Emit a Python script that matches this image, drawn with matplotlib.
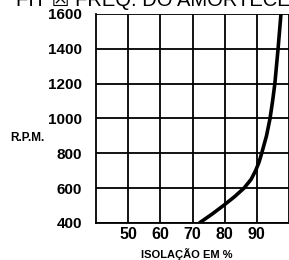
import matplotlib
matplotlib.use("Agg")
import matplotlib.pyplot as plt

# curve
rpm = [400, 450, 500, 550, 600, 650, 700, 750, 800, 900, 1000, 1100, 1200, 1400, 1600]
isolacao = [72.1, 76.0, 79.6, 83.0, 86.0, 88.2, 89.6, 90.7, 91.5, 93.0, 94.1, 94.9, 95.6, 96.6, 97.5]

x_ticks = [50, 60, 70, 80, 90]
y_ticks = [400, 600, 800, 1000, 1200, 1400, 1600]

plt.rcParams['font.family'] = ['Liberation Sans', 'DejaVu Sans']

fig = plt.figure(figsize=(2.89, 2.6), dpi=100)
ax = fig.add_axes([96 / 289, 1 - 223 / 260, 1 - 96 / 289, (223 - 14) / 260])

ax.plot(isolacao, rpm, color='black', linewidth=2.6, solid_capstyle='butt',
        solid_joinstyle='round', zorder=3)

ax.set_xlim(40, 99.6)
ax.set_ylim(400, 1600)
ax.set_xticks(x_ticks + [100])
ax.set_xticklabels([str(v) for v in x_ticks] + [''])
ax.set_yticks(y_ticks)
ax.set_yticklabels([str(v) for v in y_ticks])
ax.grid(True, color='black', linewidth=1.3)
ax.tick_params(length=0)
ax.tick_params(axis='y', pad=10, labelsize=11)
ax.tick_params(axis='x', pad=3, labelsize=11.5)
for lbl in ax.get_xticklabels() + ax.get_yticklabels():
    lbl.set_fontweight('bold')

for side in ['left', 'bottom']:
    ax.spines[side].set_linewidth(1.3)
ax.spines['right'].set_visible(False)
ax.spines['top'].set_visible(False)

fig.text(186.5 / 289, 1 - 258 / 260, 'ISOLAÇÃO EM %', ha='center', va='baseline',
         fontsize=8, fontweight='bold')
fig.text(10 / 289, 1 - 138 / 260, 'R.P.M.', ha='left', va='center',
         fontsize=8.5, fontweight='bold')
# title is cut off at the top edge in the reference as well
fig.text(16 / 289, 1 - 6 / 260, 'FIT ☒ FREQ. DO AMORTECEDOR', ha='left', va='baseline',
         fontsize=14.5)

fig.savefig('out.png', dpi=100)
